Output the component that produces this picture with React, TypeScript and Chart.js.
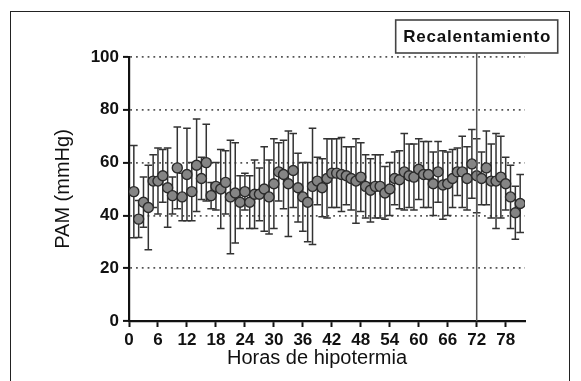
import React, { useEffect, useRef } from "react";
import { Chart, registerables } from "chart.js";

Chart.register(...registerables);

// Hours of hypothermia (x categories)
const HOURS = [
  1, 2, 3, 4, 5, 6, 7, 8, 9, 10, 11, 12, 13, 14, 15, 16, 17, 18, 19, 20,
  21, 22, 23, 24, 25, 26, 27, 28, 29, 30, 31, 32, 33, 34, 35, 36, 37, 38, 39, 40,
  41, 42, 43, 44, 45, 46, 47, 48, 49, 50, 51, 52, 53, 54, 55, 56, 57, 58, 59, 60,
  61, 62, 63, 64, 65, 66, 67, 68, 69, 70, 71, 72, 73, 74, 75, 76, 77, 78, 79, 80, 81,
];

// Mean arterial pressure (mmHg), mean per hour
const PAM_MEAN = [
  49, 38.6, 45, 43, 53, 53, 55, 50.5, 47.5, 58, 47, 55.5, 49, 59, 54, 60, 47.5, 51, 50, 52.5,
  47, 48.5, 45, 49, 45, 48, 48, 50, 47, 52, 56.5, 55.5, 52, 57, 50.5, 47, 45, 51, 53, 50.5,
  54, 56, 56, 55.5, 55, 54, 53, 54.5, 51, 49.5, 51, 51, 48.5, 50, 54, 53.5, 56.5, 55, 54.5, 57.5,
  55.5, 55.5, 52, 56.5, 51.5, 52, 54, 56.5, 56.5, 54, 59.5, 55, 54, 58, 53, 53, 54.5, 52, 47, 41, 44.5,
];

// Standard deviation (mmHg) per hour
const PAM_SD = [
  17.5, 7, 9.5, 16, 10, 12.5, 10, 15, 7, 15.5, 9, 17.5, 11, 17.5, 8, 14.5, 5, 9, 15, 12,
  21.5, 19, 10, 7, 10, 13, 10, 16, 14, 17, 11, 13, 20, 14, 13, 13, 15, 22, 9, 11,
  15, 13, 13, 14, 11, 12, 16, 13, 12, 12, 12, 12, 10, 10, 10, 11, 14.5, 12, 12.5, 11.5,
  12.5, 12.5, 12, 11.5, 13, 12, 11, 9, 13.5, 12, 13, 14, 10, 14, 14, 18, 15.5, 10, 12, 10, 11,
];

const X_TICKS = [0, 6, 12, 18, 24, 30, 36, 42, 48, 54, 60, 66, 72, 78];
const Y_TICKS = [0, 20, 40, 60, 80, 100];
const X_MAX = 82;
const REWARM_HOUR = 72;
const REWARM_LABEL = "Recalentamiento";
const X_TITLE = "Horas de hipotermia";
const Y_TITLE = "PAM (mmHg)";

const FONT = "'Liberation Sans', Arial, sans-serif";

const errorBarsPlugin = {
  id: "errorBars",
  beforeDatasetsDraw(chart: any) {
    const { ctx, scales } = chart;
    const x = scales.x;
    const y = scales.y;
    ctx.save();
    ctx.strokeStyle = "#333";
    ctx.lineWidth = 1.5;
    const cap = 3.8;
    HOURS.forEach((h, i) => {
      const px = x.getPixelForValue(h);
      const top = y.getPixelForValue(PAM_MEAN[i] + PAM_SD[i]);
      const bot = y.getPixelForValue(PAM_MEAN[i] - PAM_SD[i]);
      ctx.beginPath();
      ctx.moveTo(px, top);
      ctx.lineTo(px, bot);
      ctx.moveTo(px - cap, top);
      ctx.lineTo(px + cap, top);
      ctx.moveTo(px - cap, bot);
      ctx.lineTo(px + cap, bot);
      ctx.stroke();
    });
    ctx.restore();
  },
};

const annotationsPlugin = {
  id: "rewarm",
  afterDraw(chart: any) {
    const { ctx, scales, chartArea } = chart;
    const px = scales.x.getPixelForValue(REWARM_HOUR);
    ctx.save();
    ctx.font = `bold 17px ${FONT}`;
    (ctx as any).letterSpacing = "0.8px";
    const tw = ctx.measureText(REWARM_LABEL).width;
    const w = tw + 14;
    const h = 33;
    const bx = px - w / 2;
    const by = chartArea.top - 37;
    // vertical line
    ctx.strokeStyle = "#555";
    ctx.lineWidth = 1.5;
    ctx.beginPath();
    ctx.moveTo(px, by + h);
    ctx.lineTo(px, chartArea.bottom);
    ctx.stroke();
    // box
    ctx.fillStyle = "#ffffff";
    ctx.fillRect(bx, by, w, h);
    ctx.strokeStyle = "#444";
    ctx.lineWidth = 1.6;
    ctx.strokeRect(bx, by, w, h);
    ctx.fillStyle = "#111";
    ctx.textAlign = "center";
    ctx.textBaseline = "middle";
    ctx.fillText(REWARM_LABEL, px + 0.5, by + h / 2 + 1);
    // x-axis title
    (ctx as any).letterSpacing = "0px";
    ctx.font = `20px ${FONT}`;
    ctx.fillStyle = "#111";
    ctx.fillText(X_TITLE, (chartArea.left + chartArea.right) / 2 - 10, 358);
    ctx.restore();
  },
};

export default function App() {
  const canvasRef = useRef<HTMLCanvasElement | null>(null);

  useEffect(() => {
    if (!canvasRef.current) return;
    const chart = new Chart(canvasRef.current, {
      type: "scatter",
      data: {
        datasets: [
          {
            label: Y_TITLE,
            data: HOURS.map((h, i) => ({ x: h, y: PAM_MEAN[i] })),
            showLine: false,
            pointRadius: 5,
            pointBackgroundColor: "#858585",
            pointBorderColor: "#2a2a2a",
            pointBorderWidth: 1.4,
          },
        ],
      },
      options: {
        responsive: false,
        animation: false,
        events: [],
        layout: { padding: { left: 0, right: 56, top: 57, bottom: 0 } },
        plugins: {
          legend: { display: false },
          tooltip: { enabled: false },
        },
        scales: {
          x: {
            type: "linear",
            min: 0,
            max: X_MAX,
            afterBuildTicks: (scale: any) => {
              scale.ticks = X_TICKS.map((v) => ({ value: v }));
            },
            afterFit: (scale: any) => {
              scale.height = 60;
            },
            grid: {
              drawOnChartArea: false,
              drawTicks: true,
              tickLength: 6,
              tickColor: "#111",
              tickWidth: 2,
            },
            border: { display: true, color: "#111", width: 2.2 },
            ticks: {
              color: "#111",
              padding: 3,
              font: { family: FONT, size: 17, weight: "bold" },
              maxRotation: 0,
              autoSkip: false,
            },
            title: { display: false },
          },
          y: {
            type: "linear",
            min: 0,
            max: 100,
            afterBuildTicks: (scale: any) => {
              scale.ticks = Y_TICKS.map((v) => ({ value: v }));
            },
            afterFit: (scale: any) => {
              scale.width = 129;
            },
            grid: {
              drawOnChartArea: true,
              drawTicks: true,
              tickLength: 6,
              tickWidth: 2,
              tickColor: "#111",
              lineWidth: 1.8,
              color: (c: any) => (c.tick && c.tick.value === 0 ? "rgba(0,0,0,0)" : "#555"),
            },
            border: { display: true, color: "#111", width: 2.2, dash: [1.8, 4] },
            ticks: {
              color: "#111",
              padding: 4,
              font: { family: FONT, size: 17, weight: "bold" },
            },
            title: {
              display: true,
              text: Y_TITLE,
              color: "#111",
              font: { family: FONT, size: 20 },
              padding: { top: 51, bottom: 0 },
            },
          },
        },
      },
      plugins: [errorBarsPlugin, annotationsPlugin],
    } as any);
    return () => chart.destroy();
  }, []);

  return (
    <div style={{ position: "fixed", left: 0, top: 0, width: 581, height: 381, background: "#fff" }}>
      <div
        style={{
          position: "absolute",
          left: 10,
          top: 11,
          width: 560,
          height: 400,
          border: "1.5px solid #222",
          boxSizing: "border-box",
        }}
      />
      <canvas ref={canvasRef} width={581} height={381} style={{ position: "absolute", left: 0, top: 0 }} />
    </div>
  );
}
